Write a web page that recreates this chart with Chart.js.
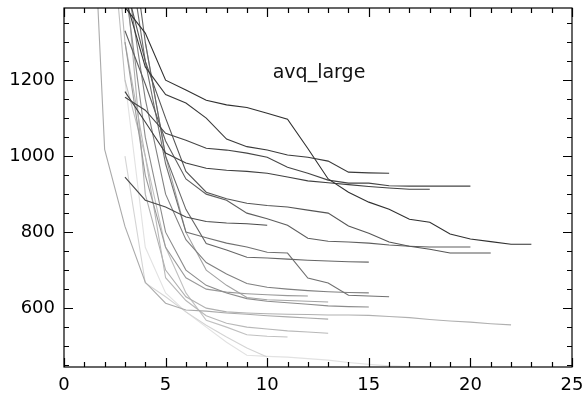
<!DOCTYPE html>
<html>
<head>
<meta charset="utf-8">
<script src="https://cdn.jsdelivr.net/npm/chart.js@4.4.1/dist/chart.umd.min.js"></script>
<style>
  html, body { margin: 0; padding: 0; background: #fff; }
  #wrap { width: 586px; height: 405px; }
</style>
</head>
<body>
<div id="wrap"><canvas id="chart"></canvas></div>
<script>
// tick labels
const xTicks = [0, 5, 10, 15, 20, 25];
const yTicks = [600, 800, 1000, 1200];
const plotLabel = "avq_large";

// one array per run, values at x = start, start+1, ...
const run01 = [1392, 1324, 1200, 1174, 1147, 1135, 1128, 1113, 1097, 1020, 940, 905, 879, 860, 834, 826, 795, 782, 775, 768, 768];
const run02 = [1420, 1235, 1162, 1140, 1100, 1045, 1025, 1016, 1003, 997, 987, 958, 956, 955];
const run03 = [1155, 1121, 1060, 1042, 1021, 1016, 1008, 997, 971, 955, 937, 929, 929, 922, 921, 921, 921, 921];
const run04 = [1170, 1090, 1008, 982, 968, 963, 960, 955, 945, 935, 930, 925, 920, 916, 913, 913];
const run05 = [945, 884, 866, 840, 828, 824, 822, 818];
const run06 = [1460, 1250, 1100, 960, 905, 888, 876, 870, 866, 858, 850, 816, 797, 774, 763, 755, 745, 745, 745];
const run07 = [1330, 1190, 1040, 940, 900, 884, 850, 835, 818, 784, 776, 774, 771, 766, 763, 761, 761, 761];
const run08 = [1700, 1300, 1000, 860, 770, 753, 734, 732, 729, 726, 724, 722, 721];
const run09 = [1600, 1250, 980, 800, 785, 771, 761, 747, 745, 679, 666, 634, 632, 630];
const run10 = [1500, 1150, 900, 780, 720, 690, 665, 655, 650, 646, 643, 641, 640];
const run11 = [1450, 1050, 800, 700, 660, 640, 625, 618, 614, 610, 606, 604, 603];
const run12 = [1300, 950, 760, 680, 650, 642, 638, 635, 633, 632];
const run13 = [1300, 1000, 800, 700, 660, 628, 622, 620, 618, 616];
const run14 = [2150, 1018, 815, 668, 613, 595, 592, 587, 584, 580, 577, 574, 571];
const run15 = [1500, 900, 700, 630, 600, 590, 587, 585, 584, 583, 582, 582, 581, 578, 575, 570, 566, 563, 559, 556];
const run16 = [1900, 1300, 1000, 680, 620, 580, 560, 550, 545, 540, 537, 534];
const run17 = [1800, 1200, 1000, 760, 640, 568, 550, 530, 526, 524];
const run18 = [1000, 666, 630, 590, 555, 524, 495, 471];
const run19 = [1200, 760, 640, 590, 550, 510, 476, 473, 471, 467, 463, 457, 452, 448, 446, 446];

const runs = [run01, run02, run03, run04, run05, run06, run07, run08, run09, run10,
              run11, run12, run13, run14, run15, run16, run17, run18, run19];
const starts = [3, 3, 3, 3, 3, 3, 3, 3, 3, 3, 3, 3, 4, 1, 3, 2, 2, 3, 3];
const shades = ["#303030", "#3a3a3a", "#454545", "#404040", "#4a4a4a", "#555555", "#5e5e5e",
                "#666666", "#707070", "#808080", "#8c8c8c", "#999999", "#a3a3a3", "#aaaaaa",
                "#b0b0b0", "#b8b8b8", "#c0c0c0", "#d4d4d4", "#e2e2e2"];

const datasets = runs.map((vals, i) => ({
  data: vals.map((v, j) => ({ x: starts[i] + j, y: v })),
  borderColor: shades[i],
  borderWidth: 1.1,
  pointRadius: 0,
  fill: false,
  tension: 0,
}));

// IDL style box with inward ticks on all four sides, plus the label
const frame = {
  id: "frame",
  afterDraw(chart) {
    const { ctx, chartArea: a, scales: { x, y } } = chart;
    ctx.save();
    ctx.strokeStyle = "#000";
    ctx.lineWidth = 1.2;
    ctx.strokeRect(a.left, a.top, a.right - a.left, a.bottom - a.top);
    ctx.beginPath();
    for (let v = 0; v <= 25; v++) {
      const px = Math.round(x.getPixelForValue(v)) + 0.5;
      const len = v % 5 === 0 ? 9 : 5;
      ctx.moveTo(px, a.bottom); ctx.lineTo(px, a.bottom - len);
      ctx.moveTo(px, a.top); ctx.lineTo(px, a.top + len);
    }
    for (let v = 450; v <= 1350; v += 50) {
      const py = Math.round(y.getPixelForValue(v)) + 0.5;
      const len = v % 200 === 0 ? 9 : 5;
      ctx.moveTo(a.left, py); ctx.lineTo(a.left + len, py);
      ctx.moveTo(a.right, py); ctx.lineTo(a.right - len, py);
    }
    ctx.stroke();
    ctx.fillStyle = "#111";
    ctx.font = "19px 'DejaVu Sans'";
    ctx.textAlign = "center";
    ctx.textBaseline = "middle";
    ctx.fillText(plotLabel, x.getPixelForValue(12.55), y.getPixelForValue(1220));
    ctx.restore();
  },
};

new Chart(document.getElementById("chart"), {
  type: "line",
  data: { datasets },
  plugins: [frame],
  options: {
    responsive: true,
    maintainAspectRatio: false,
    animation: false,
    layout: { padding: { left: 0, top: 8, right: 14, bottom: 0 } },
    plugins: {
      legend: { display: false },
      tooltip: { enabled: false },
    },
    scales: {
      x: {
        type: "linear",
        min: 0,
        max: 25,
        afterBuildTicks: (s) => { s.ticks = xTicks.map((v) => ({ value: v })); },
        afterFit: (s) => {
          s.height = 38;
          s.paddingLeft = 0;
          s.paddingRight = 0;
        },
        grid: { display: false, drawTicks: false },
        border: { display: false },
        ticks: {
          maxRotation: 0,
          autoSkip: false,
          padding: 8,
          color: "#000",
          font: { family: "DejaVu Sans", size: 18 },
          callback: (v) => String(v),
        },
      },
      y: {
        min: 445,
        max: 1390,
        afterBuildTicks: (s) => { s.ticks = yTicks.map((v) => ({ value: v })); },
        afterFit: (s) => {
          s.width = 64;
          s.paddingTop = 0;
          s.paddingBottom = 0;
        },
        grid: { display: false, drawTicks: false },
        border: { display: false },
        ticks: {
          padding: 9,
          color: "#000",
          font: { family: "DejaVu Sans", size: 18 },
          callback: (v) => String(v),
        },
      },
    },
  },
});
</script>
</body>
</html>
